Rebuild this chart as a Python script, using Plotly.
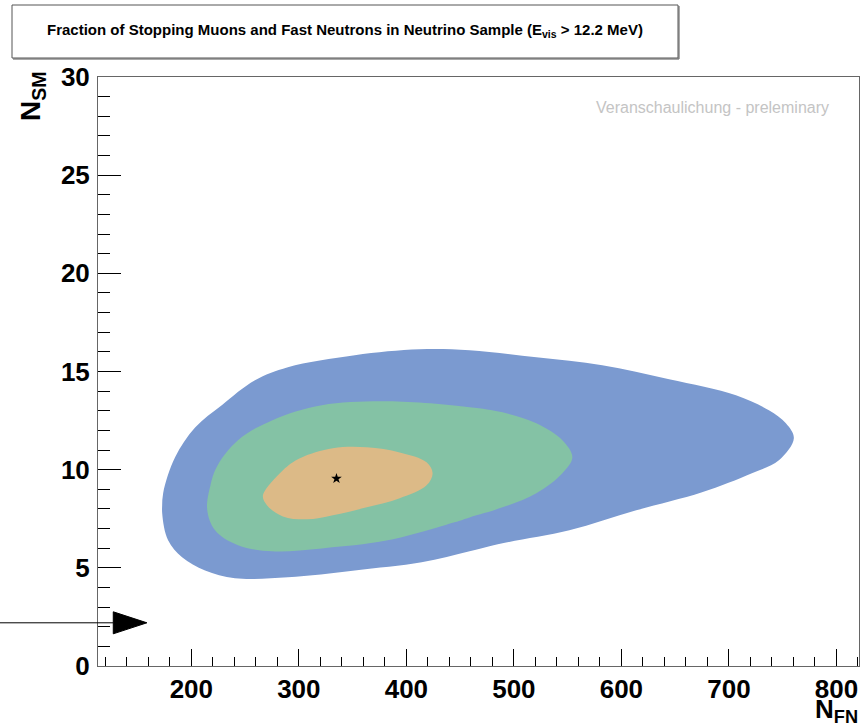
import plotly.graph_objects as go

# Confidence regions in the (N_FN, N_SM) plane: boundary points of each contour
outer_fn = [172.9, 173.8, 184.9, 203.5, 228.6, 259.2, 289.8, 352.0, 412.3, 458.8,
            520.9, 582.2, 644.4, 706.6, 737.2, 753.0, 760.4, 746.5, 721.4, 675.0,
            613.8, 551.6, 489.4, 458.8, 414.2, 352.0, 289.8, 240.6, 212.8, 191.4, 178.4]
outer_sm = [7.78, 8.80, 10.63, 12.15, 13.30, 14.55, 15.22, 15.83, 16.13, 16.08,
            15.72, 15.32, 14.60, 13.79, 13.02, 12.36, 11.60, 10.48, 9.82, 8.85,
            7.93, 6.91, 6.25, 5.84, 5.28, 4.87, 4.52, 4.47, 4.87, 5.54, 6.40]

middle_fn = [214.6, 222.1, 243.4, 275.0, 321.4, 382.6, 458.8, 489.4, 520.9, 545.1,
             554.4, 545.1, 520.9, 489.4, 458.8, 444.8, 382.6, 321.4, 275.0, 243.4, 222.1]
middle_sm = [8.08, 9.97, 11.50, 12.51, 13.28, 13.48, 13.18, 12.92, 12.36, 11.50,
             10.63, 9.82, 8.80, 8.08, 7.57, 7.32, 6.40, 5.99, 5.84, 6.15, 6.91]

inner_fn = [266.6, 285.2, 301.0, 331.6, 363.2, 393.8, 418.8, 424.4, 418.8, 393.8,
            363.2, 331.6, 307.5, 285.2, 270.3]
inner_sm = [8.69, 9.97, 10.58, 11.09, 11.14, 10.88, 10.38, 9.82, 9.20, 8.54,
            8.08, 7.68, 7.47, 7.62, 8.19]

# Best-fit point
best_fn = [335.0]
best_sm = [9.55]

# Arrow marking N_SM level
arrow_sm = 2.2
arrow_tip_fn = 158.7
arrow_base_fn = 127.4
arrow_half_height = 0.56

x_range = [113.2, 821.0]
y_range = [0, 30]

W, H = 865, 728
ML, MR, MT, MB = 98, 6, 77, 62
PW, PH = W - ML - MR, H - MT - MB

def px(xp):
    return (xp - ML) / PW

def py(yp):
    return (H - MB - yp) / PH

def dx(v):
    return (v - x_range[0]) / (x_range[1] - x_range[0])

def dy(v):
    return (v - y_range[0]) / (y_range[1] - y_range[0])

blue = "#7b9ad0"
green = "#84c2a5"
orange = "#dcba87"

fig = go.Figure()
for xs, ys, col in [(outer_fn, outer_sm, blue), (middle_fn, middle_sm, green),
                    (inner_fn, inner_sm, orange)]:
    # wrap around so the spline closes smoothly
    fig.add_trace(go.Scatter(x=xs + xs[:2], y=ys + ys[:2], mode="lines",
                             line=dict(width=0, shape="spline", smoothing=1.0, color=col),
                             fill="toself", fillcolor=col, hoverinfo="skip",
                             showlegend=False))

fig.add_trace(go.Scatter(x=best_fn, y=best_sm, mode="markers",
                         marker=dict(symbol="star", size=8, color="black"),
                         showlegend=False))

bold = dict(family="Liberation Sans, Arial, sans-serif", weight="bold", color="black")

fig.update_layout(
    width=W, height=H,
    margin=dict(l=ML, r=MR, t=MT, b=MB),
    paper_bgcolor="white", plot_bgcolor="white",
    showlegend=False,
    xaxis=dict(range=x_range, showgrid=False, zeroline=False,
               showline=True, linecolor="#666666", linewidth=1, mirror=True,
               ticks="inside", ticklen=17, tickcolor="black", tickwidth=1,
               tick0=0, dtick=100,
               minor=dict(ticks="inside", ticklen=9, dtick=20, tickcolor="black", showgrid=False),
               tickfont=dict(size=26, **bold), ticklabelstandoff=0),
    yaxis=dict(range=y_range, showgrid=False, zeroline=False,
               showline=True, linecolor="#666666", linewidth=1, mirror=True,
               ticks="inside", ticklen=23, tickcolor="black", tickwidth=1,
               tick0=0, dtick=5,
               minor=dict(ticks="inside", ticklen=12, dtick=1, tickcolor="black", showgrid=False),
               tickfont=dict(size=26, **bold), ticklabelstandoff=2),
)

shapes = [
    # title box with a thin shadow
    dict(type="rect", xref="paper", yref="paper",
         x0=px(12), x1=px(678), y0=py(58), y1=py(5),
         line=dict(color="#555555", width=1), fillcolor="white"),
    dict(type="line", xref="paper", yref="paper",
         x0=px(679), x1=px(679), y0=py(59), y1=py(6),
         line=dict(color="#555555", width=1)),
    dict(type="line", xref="paper", yref="paper",
         x0=px(13), x1=px(679), y0=py(59), y1=py(59),
         line=dict(color="#555555", width=1)),
    # arrow shaft
    dict(type="line", xref="paper", yref="paper",
         x0=px(0), x1=dx(arrow_base_fn), y0=dy(arrow_sm), y1=dy(arrow_sm),
         line=dict(color="black", width=1)),
    # arrow head
    dict(type="path", xref="paper", yref="paper",
         path=(f"M {dx(arrow_base_fn)},{dy(arrow_sm + arrow_half_height)} "
               f"L {dx(arrow_tip_fn)},{dy(arrow_sm)} "
               f"L {dx(arrow_base_fn)},{dy(arrow_sm - arrow_half_height)} Z"),
         line=dict(color="black", width=1), fillcolor="black"),
]
fig.update_layout(shapes=shapes)

annotations = [
    dict(text="Fraction of Stopping Muons and Fast Neutrons in Neutrino Sample (E<sub>vis</sub> &gt; 12.2 MeV)",
         xref="paper", yref="paper", x=px(345), y=py(30), xanchor="center", yanchor="middle",
         showarrow=False, font=dict(size=15, **bold)),
    dict(text="Veranschaulichung - preleminary",
         xref="paper", yref="paper", x=px(831), y=py(107), xanchor="right", yanchor="middle",
         showarrow=False,
         font=dict(size=16, family="Liberation Sans, Arial, sans-serif", color="#c4c4c4")),
    dict(text="N<sub>SM</sub>", textangle=-90,
         xref="paper", yref="paper", x=px(33), y=py(96), xanchor="center", yanchor="middle",
         showarrow=False, font=dict(size=28, **bold)),
    dict(text="N<sub>FN</sub>",
         xref="paper", yref="paper", x=px(860), y=py(710), xanchor="right", yanchor="middle",
         showarrow=False, font=dict(size=26, **bold)),
]
fig.update_layout(annotations=annotations)

fig.write_html("out.html")
